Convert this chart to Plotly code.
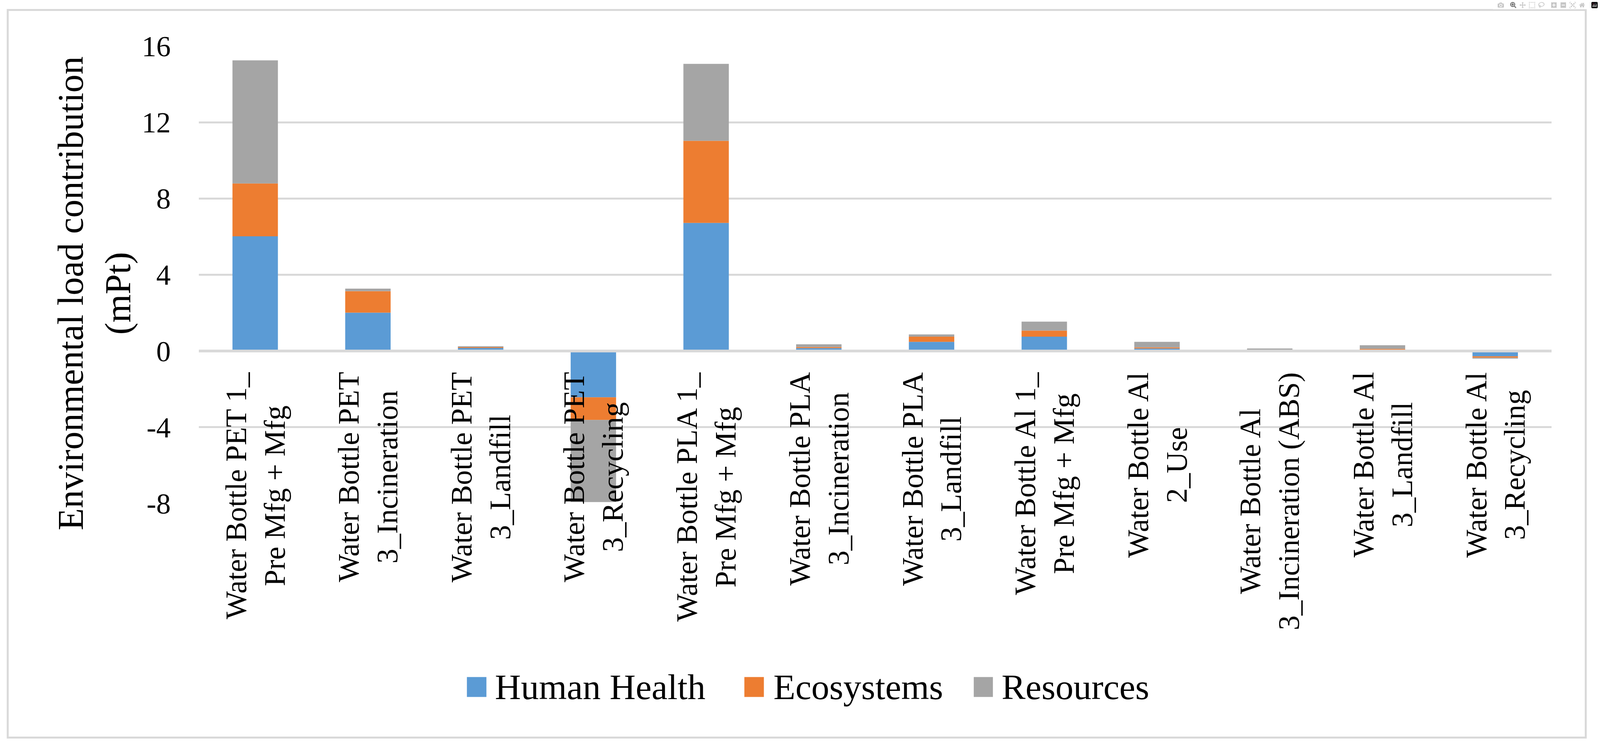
import plotly.graph_objects as go

# ---------------- data ----------------
categories = [
    "Water Bottle PET 1_<br>Pre Mfg + Mfg",
    "Water Bottle PET<br>3_Incineration",
    "Water Bottle PET<br>3_Landfill",
    "Water Bottle PET<br>3_Recycling",
    "Water Bottle PLA 1_<br>Pre Mfg + Mfg",
    "Water Bottle PLA<br>3_Incineration",
    "Water Bottle PLA<br>3_Landfill",
    "Water Bottle Al 1_<br>Pre Mfg + Mfg",
    "Water Bottle Al<br>2_Use",
    "Water Bottle Al<br>3_Incineration (ABS)",
    "Water Bottle Al<br>3_Landfill",
    "Water Bottle Al<br>3_Recycling",
]
series_names = ["Human Health", "Ecosystems", "Resources"]
human_health = [6.02, 2.01, 0.17, -2.43, 6.72, 0.15, 0.48, 0.75, 0.13, 0.005, 0.07, -0.28]
ecosystems = [2.77, 1.13, 0.04, -1.19, 4.31, 0.06, 0.27, 0.32, 0.06, 0.005, 0.04, -0.07]
resources = [6.46, 0.13, 0.04, -4.31, 4.04, 0.14, 0.12, 0.47, 0.29, 0.12, 0.19, -0.05]
y_tick_vals = [16, 12, 8, 4, 0, -4, -8]
y_tick_text = ["16", "12", "8", "4", "0", "-4", "-8"]
y_title = "Environmental load contribution<br>(mPt)"

# ---------------- style ----------------
colors = ["#5B9BD5", "#ED7D31", "#A5A5A5"]
grid_col = "#D9D9D9"
FONT = "Liberation Serif"
W, H = 4096, 1928          # usable viewport
SX = W / 4261.0            # horizontal scale vs. reference canvas

fig = go.Figure()
for name, vals, col in zip(series_names, [human_health, ecosystems, resources], colors):
    fig.add_trace(go.Bar(x=categories, y=vals, name=name, marker=dict(color=col, line=dict(width=0)),
                         showlegend=False))

# category labels (rotated, lines centred)
annotations = []
for c in categories:
    annotations.append(dict(x=c, y=0, xref="x", yref="y", text=c, showarrow=False,
                            textangle=-90, xanchor="center", yanchor="top", yshift=-52,
                            align="center", font=dict(family=FONT, size=76, color="black")))

# y-axis title
annotations.append(dict(x=-0.0774, y=0.4593, xref="paper", yref="paper", text=y_title,
                        showarrow=False, textangle=-90, xanchor="center", yanchor="middle",
                        align="center", font=dict(family=FONT, size=93, color="black")))

# manual legend
shapes = []
leg_sq = [(0.19817, 0.21260), (0.40328, 0.41771), (0.57286, 0.58701)]
leg_tx = [0.21843, 0.42409, 0.59284]
for (x0, x1), tx, name, col in zip(leg_sq, leg_tx, series_names, colors):
    shapes.append(dict(type="rect", xref="paper", yref="paper", x0=x0, x1=x1,
                       y0=-0.4232, y1=-0.3796, fillcolor=col, line=dict(width=0)))
    annotations.append(dict(x=tx, y=-0.401, xref="paper", yref="paper", text=name,
                            showarrow=False, xanchor="left", yanchor="middle",
                            font=dict(family=FONT, size=92, color="black")))

# zero axis line above bars
shapes.append(dict(type="line", xref="paper", yref="y", x0=0, x1=1, y0=0, y1=0,
                   line=dict(color=grid_col, width=7), layer="above"))
# outer chart border
shapes.append(dict(type="rect", xref="paper", yref="paper", x0=-0.14127, x1=1.02526,
                   y0=-0.51205, y1=1.07902, line=dict(color=grid_col, width=5),
                   fillcolor="rgba(0,0,0,0)", layer="below"))

fig.update_layout(
    width=W, height=H,
    margin=dict(l=529 * SX, r=129 * SX, t=118, b=639, pad=0),
    paper_bgcolor="white", plot_bgcolor="white",
    barmode="relative", bargap=0.597,
    font=dict(family=FONT, color="black"),
    annotations=annotations, shapes=shapes,
    xaxis=dict(showticklabels=False, showgrid=False, zeroline=False, showline=False, ticks=""),
    yaxis=dict(range=[-8, 16], tickvals=y_tick_vals, ticktext=y_tick_text,
               showgrid=True, gridcolor=grid_col, gridwidth=5, zeroline=False, showline=False,
               ticks="", ticklabelstandoff=71,
               tickfont=dict(family=FONT, size=74, color="black")),
)

fig.write_html("out.html", post_script="document.body.style.margin='0';")
